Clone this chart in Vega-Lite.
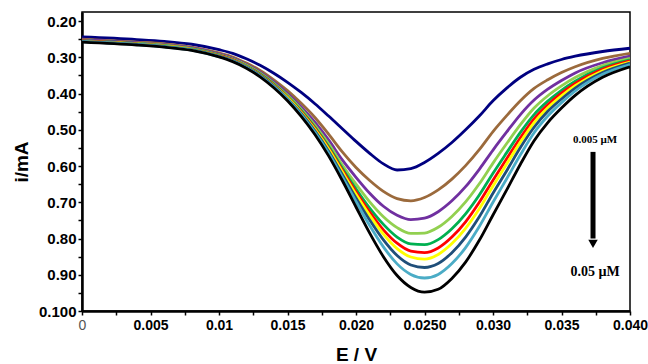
{
  "$schema": "https://vega.github.io/schema/vega-lite/v6.json",
  "autosize": "none",
  "padding": {"left": 82, "top": 12, "right": 18, "bottom": 53},
  "width": 548,
  "height": 299,
  "background": "white",
  "config": {
    "view": {"stroke": "black", "strokeWidth": 1.5},
    "font": "Liberation Sans"
  },
  "datasets": {
    "curves": [
      {"E": 0, "s01": 0.244, "s02": 0.250, "s03": 0.252, "s04": 0.254, "s05": 0.255, "s06": 0.255, "s07": 0.256, "s08": 0.256, "s09": 0.257, "s10": 0.258},
      {"E": 0.004, "s01": 0.251, "s02": 0.258, "s03": 0.260, "s04": 0.262, "s05": 0.262, "s06": 0.263, "s07": 0.263, "s08": 0.264, "s09": 0.265, "s10": 0.266},
      {"E": 0.006, "s01": 0.256, "s02": 0.263, "s03": 0.266, "s04": 0.267, "s05": 0.268, "s06": 0.269, "s07": 0.269, "s08": 0.270, "s09": 0.271, "s10": 0.272},
      {"E": 0.008, "s01": 0.264, "s02": 0.272, "s03": 0.274, "s04": 0.276, "s05": 0.277, "s06": 0.278, "s07": 0.278, "s08": 0.279, "s09": 0.280, "s10": 0.281},
      {"E": 0.010, "s01": 0.279, "s02": 0.288, "s03": 0.291, "s04": 0.293, "s05": 0.294, "s06": 0.295, "s07": 0.296, "s08": 0.297, "s09": 0.298, "s10": 0.299},
      {"E": 0.011, "s01": 0.289, "s02": 0.299, "s03": 0.303, "s04": 0.305, "s05": 0.306, "s06": 0.307, "s07": 0.308, "s08": 0.309, "s09": 0.310, "s10": 0.312},
      {"E": 0.012, "s01": 0.304, "s02": 0.316, "s03": 0.320, "s04": 0.322, "s05": 0.324, "s06": 0.325, "s07": 0.326, "s08": 0.327, "s09": 0.328, "s10": 0.330},
      {"E": 0.013, "s01": 0.322, "s02": 0.336, "s03": 0.341, "s04": 0.344, "s05": 0.346, "s06": 0.348, "s07": 0.349, "s08": 0.350, "s09": 0.352, "s10": 0.354},
      {"E": 0.014, "s01": 0.344, "s02": 0.362, "s03": 0.368, "s04": 0.372, "s05": 0.374, "s06": 0.376, "s07": 0.377, "s08": 0.379, "s09": 0.381, "s10": 0.384},
      {"E": 0.015, "s01": 0.369, "s02": 0.392, "s03": 0.400, "s04": 0.405, "s05": 0.408, "s06": 0.410, "s07": 0.411, "s08": 0.414, "s09": 0.416, "s10": 0.420},
      {"E": 0.016, "s01": 0.397, "s02": 0.427, "s03": 0.437, "s04": 0.443, "s05": 0.447, "s06": 0.450, "s07": 0.452, "s08": 0.455, "s09": 0.458, "s10": 0.463},
      {"E": 0.017, "s01": 0.428, "s02": 0.466, "s03": 0.479, "s04": 0.488, "s05": 0.493, "s06": 0.496, "s07": 0.499, "s08": 0.503, "s09": 0.507, "s10": 0.513},
      {"E": 0.018, "s01": 0.462, "s02": 0.512, "s03": 0.528, "s04": 0.539, "s05": 0.546, "s06": 0.550, "s07": 0.553, "s08": 0.559, "s09": 0.564, "s10": 0.572},
      {"E": 0.019, "s01": 0.497, "s02": 0.561, "s03": 0.583, "s04": 0.597, "s05": 0.606, "s06": 0.611, "s07": 0.616, "s08": 0.623, "s09": 0.630, "s10": 0.640},
      {"E": 0.020, "s01": 0.532, "s02": 0.604, "s03": 0.631, "s04": 0.650, "s05": 0.663, "s06": 0.671, "s07": 0.678, "s08": 0.688, "s09": 0.698, "s10": 0.713},
      {"E": 0.021, "s01": 0.565, "s02": 0.640, "s03": 0.675, "s04": 0.699, "s05": 0.716, "s06": 0.727, "s07": 0.736, "s08": 0.749, "s09": 0.764, "s10": 0.785},
      {"E": 0.022, "s01": 0.594, "s02": 0.670, "s03": 0.711, "s04": 0.740, "s05": 0.761, "s06": 0.776, "s07": 0.788, "s08": 0.804, "s09": 0.823, "s10": 0.850},
      {"E": 0.023, "s01": 0.611, "s02": 0.690, "s03": 0.736, "s04": 0.770, "s05": 0.796, "s06": 0.813, "s07": 0.828, "s08": 0.847, "s09": 0.870, "s10": 0.902},
      {"E": 0.024, "s01": 0.607, "s02": 0.696, "s03": 0.748, "s04": 0.786, "s05": 0.815, "s06": 0.835, "s07": 0.851, "s08": 0.873, "s09": 0.899, "s10": 0.935},
      {"E": 0.025, "s01": 0.590, "s02": 0.687, "s03": 0.744, "s04": 0.785, "s05": 0.817, "s06": 0.839, "s07": 0.857, "s08": 0.880, "s09": 0.909, "s10": 0.948},
      {"E": 0.026, "s01": 0.565, "s02": 0.666, "s03": 0.726, "s04": 0.769, "s05": 0.803, "s06": 0.826, "s07": 0.844, "s08": 0.869, "s09": 0.899, "s10": 0.940},
      {"E": 0.027, "s01": 0.535, "s02": 0.636, "s03": 0.696, "s04": 0.739, "s05": 0.773, "s06": 0.796, "s07": 0.814, "s08": 0.839, "s09": 0.869, "s10": 0.910},
      {"E": 0.028, "s01": 0.500, "s02": 0.599, "s03": 0.657, "s04": 0.699, "s05": 0.732, "s06": 0.754, "s07": 0.772, "s08": 0.796, "s09": 0.825, "s10": 0.865},
      {"E": 0.029, "s01": 0.462, "s02": 0.555, "s03": 0.609, "s04": 0.649, "s05": 0.680, "s06": 0.700, "s07": 0.718, "s08": 0.740, "s09": 0.767, "s10": 0.805},
      {"E": 0.030, "s01": 0.420, "s02": 0.505, "s03": 0.556, "s04": 0.592, "s05": 0.620, "s06": 0.639, "s07": 0.655, "s08": 0.675, "s09": 0.700, "s10": 0.735},
      {"E": 0.031, "s01": 0.385, "s02": 0.461, "s03": 0.506, "s04": 0.538, "s05": 0.563, "s06": 0.580, "s07": 0.594, "s08": 0.613, "s09": 0.635, "s10": 0.666},
      {"E": 0.032, "s01": 0.355, "s02": 0.420, "s03": 0.458, "s04": 0.486, "s05": 0.507, "s06": 0.522, "s07": 0.534, "s08": 0.549, "s09": 0.569, "s10": 0.595},
      {"E": 0.033, "s01": 0.333, "s02": 0.386, "s03": 0.418, "s04": 0.440, "s05": 0.458, "s06": 0.470, "s07": 0.480, "s08": 0.493, "s09": 0.508, "s10": 0.530},
      {"E": 0.034, "s01": 0.318, "s02": 0.362, "s03": 0.388, "s04": 0.406, "s05": 0.421, "s06": 0.431, "s07": 0.439, "s08": 0.449, "s09": 0.462, "s10": 0.480},
      {"E": 0.035, "s01": 0.306, "s02": 0.342, "s03": 0.364, "s04": 0.379, "s05": 0.391, "s06": 0.399, "s07": 0.406, "s08": 0.415, "s09": 0.425, "s10": 0.440},
      {"E": 0.036, "s01": 0.297, "s02": 0.326, "s03": 0.343, "s04": 0.356, "s05": 0.366, "s06": 0.372, "s07": 0.378, "s08": 0.385, "s09": 0.393, "s10": 0.405},
      {"E": 0.038, "s01": 0.284, "s02": 0.303, "s03": 0.315, "s04": 0.323, "s05": 0.329, "s06": 0.333, "s07": 0.337, "s08": 0.342, "s09": 0.347, "s10": 0.355},
      {"E": 0.040, "s01": 0.275, "s02": 0.289, "s03": 0.297, "s04": 0.303, "s05": 0.307, "s06": 0.310, "s07": 0.313, "s08": 0.316, "s09": 0.320, "s10": 0.326}
    ]
  },
  "encoding": {
    "x": {
      "field": "E", "type": "quantitative",
      "scale": {"domain": [0, 0.04], "nice": false, "zero": false},
      "axis": {
        "title": "E / V",
        "values": [0, 0.0025, 0.005, 0.0075, 0.01, 0.0125, 0.015, 0.0175, 0.02, 0.0225, 0.025, 0.0275, 0.03, 0.0325, 0.035, 0.0375, 0.04],
        "labelExpr": "['0','','0.005','','0.01','','0.015','','0.020','','0.0250','','0.030','','0.035','','0.040'][round(datum.value*400)]",
        "labelFont": "Liberation Sans Narrow, Liberation Sans",
        "labelFontSize": 14,
        "labelFontWeight": {"condition": {"test": "datum.value == 0", "value": "normal"}, "value": "bold"},
        "labelColor": {"condition": {"test": "datum.value == 0", "value": "#555555"}, "value": "black"},
        "labelFlush": false,
        "labelOverlap": false,
        "labelPadding": 3,
        "tickSize": 4,
        "tickColor": "black",
        "tickWidth": 1.5,
        "domainColor": "black",
        "domainWidth": 2.5,
        "grid": false,
        "titleFont": "Liberation Sans",
        "titleFontSize": 19,
        "titleFontWeight": "bold",
        "titleColor": "black",
        "titlePadding": 13
      }
    },
    "y": {
      "field": "i", "type": "quantitative",
      "scale": {"domain": [0.175, 1.0], "reverse": true, "nice": false, "zero": false},
      "axis": {
        "title": "i/mA",
        "values": [0.2, 0.25, 0.3, 0.35, 0.4, 0.45, 0.5, 0.55, 0.6, 0.65, 0.7, 0.75, 0.8, 0.85, 0.9, 0.95, 1.0],
        "labelExpr": "['0.20','','0.30','','0.40','','0.50','','0.60','','0.70','','0.80','','0.90','','0.100'][round((datum.value-0.2)*20)]",
        "labelFont": "Liberation Sans Narrow, Liberation Sans",
        "labelFontSize": 15,
        "labelFontWeight": "bold",
        "labelColor": "black",
        "labelOverlap": false,
        "labelFlush": false,
        "labelPadding": 2,
        "tickSize": 4,
        "tickColor": "black",
        "tickWidth": 1.5,
        "domainColor": "black",
        "domainWidth": 2.5,
        "grid": false,
        "titleFont": "Liberation Sans",
        "titleFontSize": 19,
        "titleFontWeight": "bold",
        "titleColor": "black",
        "titlePadding": 7
      }
    }
  },
  "layer": [
    {
      "data": {"name": "curves"},
      "transform": [
        {"fold": ["s01", "s02", "s03", "s04", "s05", "s06", "s07", "s08", "s09", "s10"], "as": ["series", "i"]}
      ],
      "mark": {"type": "line", "interpolate": "monotone", "strokeWidth": 2.8, "clip": true},
      "encoding": {
        "color": {
          "field": "series", "type": "nominal", "legend": null,
          "scale": {
            "domain": ["s01", "s02", "s03", "s04", "s05", "s06", "s07", "s08", "s09", "s10"],
            "range": ["#000080", "#9B6A3C", "#7030A0", "#92D050", "#00B050", "#FF0000", "#FFFF00", "#1F4E79", "#4BACC6", "#000000"]
          }
        }
      }
    },
    {
      "data": {"values": [{"E": 0.0373, "i": 0.561, "i2": 0.800}]},
      "mark": {"type": "rule", "strokeWidth": 5, "color": "black"},
      "encoding": {
        "y2": {"field": "i2"}
      }
    },
    {
      "data": {"values": [{"E": 0.0373, "i": 0.815}]},
      "mark": {"type": "point", "shape": "triangle-down", "filled": true, "size": 90, "color": "black", "opacity": 1}
    },
    {
      "data": {"values": [{"E": 0.03745, "i": 0.528, "label": "0.005 µM"}]},
      "mark": {"type": "text", "font": "Liberation Serif", "fontSize": 11, "fontWeight": "bold", "color": "black", "align": "center", "baseline": "middle"},
      "encoding": {
        "text": {"field": "label"}
      }
    },
    {
      "data": {"values": [{"E": 0.03745, "i": 0.893, "label": "0.05 µM"}]},
      "mark": {"type": "text", "font": "Liberation Serif", "fontSize": 14, "fontWeight": "bold", "color": "black", "align": "center", "baseline": "middle"},
      "encoding": {
        "text": {"field": "label"}
      }
    }
  ]
}
